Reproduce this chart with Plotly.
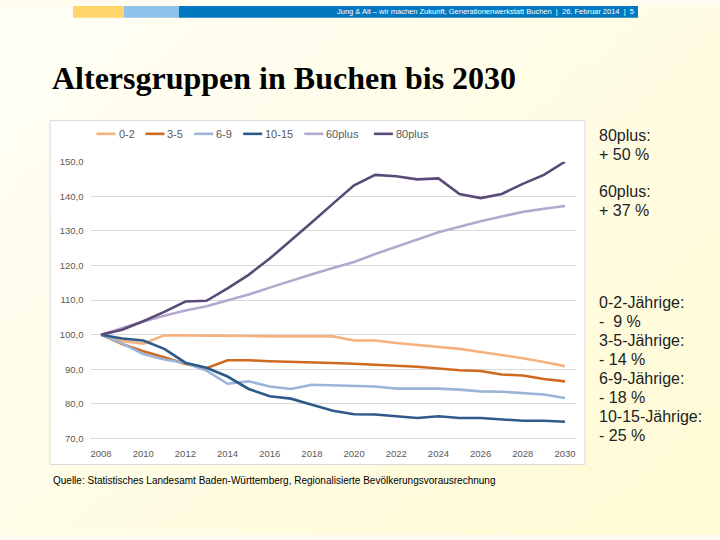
import base64, struct, zlib
import plotly.graph_objects as go

# ---------------- data ----------------
years = list(range(2008, 2031))
series_names = ["0-2", "3-5", "6-9", "10-15", "60plus", "80plus"]
v_0_2 = [100, 98.2, 97.4, 99.8, 99.8, 99.8, 99.8, 99.6, 99.5, 99.5, 99.5, 99.5,
         98.3, 98.3, 97.6, 97.0, 96.4, 95.9, 95.0, 94.2, 93.2, 92.1, 90.9]
v_3_5 = [100, 97.3, 95.2, 93.5, 91.5, 90.3, 92.6, 92.6, 92.3, 92.2, 92.0, 91.8,
         91.6, 91.4, 91.0, 90.7, 90.2, 89.7, 89.5, 88.5, 88.2, 87.2, 86.5]
v_6_9 = [100, 97.5, 94.4, 92.8, 91.8, 89.6, 85.8, 86.5, 85.0, 84.3, 85.5, 85.3,
         85.0, 85.0, 84.4, 84.4, 84.4, 84.1, 83.6, 83.5, 83.0, 82.7, 81.7]
v_10_15 = [100, 98.9, 98.3, 95.9, 91.9, 90.4, 87.9, 84.3, 82.2, 81.5, 79.7, 78.0,
           77.0, 76.9, 76.4, 75.9, 76.4, 75.9, 75.9, 75.6, 75.1, 75.1, 74.8]
v_60plus = [100, 102.0, 103.8, 105.5, 107.0, 108.2, 109.8, 111.6, 113.6, 115.6, 117.5, 119.3,
            121.0, 123.3, 125.5, 127.5, 129.6, 131.3, 132.8, 134.2, 135.5, 136.4, 137.2]
v_80plus = [100, 101.4, 103.9, 106.6, 109.6, 109.8, 113.4, 117.3, 122.0, 127.2, 132.5, 137.9,
            143.2, 146.2, 145.8, 144.9, 145.2, 140.7, 139.5, 140.7, 143.6, 146.2, 150.0]
series_values = [v_0_2, v_3_5, v_6_9, v_10_15, v_60plus, v_80plus]
y_ticks = [70, 80, 90, 100, 110, 120, 130, 140, 150]
x_ticks = list(range(2008, 2031, 2))

title_text = "Altersgruppen in Buchen bis 2030"
header_text = "Jung & Alt \u2013 wir machen Zukunft, Generationenwerkstatt Buchen  |  26. Februar 2014  |  5"
source_text = "Quelle: Statistisches Landesamt Baden-W\u00fcrttemberg, Regionalisierte Bev\u00f6lkerungsvorausrechnung"
side_notes = [["80plus:", "+ 50 %"], ["60plus:", "+ 37 %"],
              ["0-2-J\u00e4hrige:", "-  9 %", "3-5-J\u00e4hrige:", "- 14 %",
               "6-9-J\u00e4hrige:", "- 18 %", "10-15-J\u00e4hrige:", "- 25 %"]]

# ---------------- styles ----------------
colors = ["#F5B27F", "#D06A1E", "#9BB4D8", "#2E5A8A", "#B5A8CF", "#5A4A78"]
W, H = 720, 540


def px(x):
    return x / W


def py(y):
    return 1 - y / H


# background gradient image (generated PNG)
def gradient_png(w=72, h=54):
    c0 = (255, 254, 246)
    c1 = (255, 251, 212)
    raw = b""
    for j in range(h):
        raw += b"\x00"
        for i in range(w):
            t = (i / (w - 1)) * 0.55 + (j / (h - 1)) * 0.45
            r = [int(round(a + (b - a) * t)) for a, b in zip(c0, c1)]
            raw += bytes(r)

    def chunk(tag, data):
        c = struct.pack(">I", len(data)) + tag + data
        return c + struct.pack(">I", zlib.crc32(tag + data) & 0xffffffff)

    png = b"\x89PNG\r\n\x1a\n"
    png += chunk(b"IHDR", struct.pack(">IIBBBBB", w, h, 8, 2, 0, 0, 0))
    png += chunk(b"IDAT", zlib.compress(raw, 9))
    png += chunk(b"IEND", b"")
    return "data:image/png;base64," + base64.b64encode(png).decode()


fig = go.Figure()
for name, vals, col in zip(series_names, series_values, colors):
    fig.add_trace(go.Scatter(x=years, y=vals, mode="lines", name=name,
                             line=dict(color=col, width=2.6), showlegend=False))

plot_x0, plot_x1 = 90.5, 575.5
plot_y_top, plot_y_bot = 159.0, 441.4

fig.update_layout(
    width=W, height=H,
    margin=dict(l=0, r=0, t=0, b=0),
    paper_bgcolor="#FFFDF0",
    plot_bgcolor="rgba(0,0,0,0)",
    separators=",.",
    images=[dict(source=gradient_png(), xref="paper", yref="paper", x=0, y=1,
                 sizex=1, sizey=1, sizing="stretch", layer="below")],
    xaxis=dict(domain=[px(plot_x0), px(plot_x1)], range=[2007.5, 2030.5],
               tickvals=x_ticks, ticktext=[str(t) for t in x_ticks],
               showgrid=False, zeroline=False, showline=False, ticks="",
               tickfont=dict(family="Liberation Sans, Arial", size=9.5, color="#595959"),
               ticklabelstandoff=8),
    yaxis=dict(domain=[py(plot_y_bot), py(plot_y_top)], range=[70, 150],
               tickvals=y_ticks, tickformat=".1f",
               showgrid=True, gridcolor="#D9D9D9", gridwidth=1, zeroline=False,
               showline=False, ticks="",
               tickfont=dict(family="Liberation Sans, Arial", size=9.5, color="#595959"),
               ticklabelstandoff=6),
    showlegend=False,
)

shapes = []
annotations = []
# header bar
shapes += [
    dict(type="rect", xref="paper", yref="paper", x0=px(73), x1=px(124), y0=py(12), y1=py(0),
         fillcolor="#FFD468", line=dict(width=0), layer="below"),
    dict(type="rect", xref="paper", yref="paper", x0=px(124), x1=px(179), y0=py(12), y1=py(0),
         fillcolor="#8DC2EA", line=dict(width=0), layer="below"),
    dict(type="rect", xref="paper", yref="paper", x0=px(179), x1=px(638), y0=py(12), y1=py(0),
         fillcolor="#0079C1", line=dict(width=0), layer="below"),
]
annotations.append(dict(text=header_text, xref="paper", yref="paper", x=px(636), y=py(6),
                        xanchor="right", yanchor="middle", showarrow=False,
                        font=dict(family="Liberation Sans Narrow, Arial Narrow, Liberation Sans", size=7.5,
                                  color="white")))
# chart box
shapes.append(dict(type="rect", xref="paper", yref="paper", x0=px(50), x1=px(585), y0=py(468), y1=py(117),
                   fillcolor="white", line=dict(color="#D9D9D9", width=1), layer="below"))
# axis line at bottom
shapes.append(dict(type="line", xref="paper", yref="paper", x0=px(plot_x0), x1=px(plot_x1),
                   y0=py(plot_y_bot), y1=py(plot_y_bot), line=dict(color="#D9D9D9", width=1)))

# manual legend
leg_x = 96.5
leg_y = 130.5
for name, col in zip(series_names, colors):
    shapes.append(dict(type="line", xref="paper", yref="paper", x0=px(leg_x), x1=px(leg_x + 19),
                       y0=py(leg_y), y1=py(leg_y), line=dict(color=col, width=2.6)))
    annotations.append(dict(text=name, xref="paper", yref="paper", x=px(leg_x + 20), y=py(leg_y),
                            xanchor="left", yanchor="middle", showarrow=False,
                            font=dict(family="Liberation Sans, Arial", size=11, color="#595959")))
    tw = sum(6.1 if ch.isalnum() else 3.7 for ch in name)
    leg_x += 19 + 1 + tw + 13

# title
annotations.append(dict(text="<b>" + title_text + "</b>", xref="paper", yref="paper", x=px(50), y=py(73),
                        xanchor="left", yanchor="middle", showarrow=False,
                        font=dict(family="Liberation Serif, Times New Roman", size=32, color="black")))
# source
annotations.append(dict(text=source_text, xref="paper", yref="paper", x=px(51), y=py(484),
                        xanchor="left", yanchor="middle", showarrow=False,
                        font=dict(family="Liberation Sans, Arial", size=10, color="black")))
# side notes
block_tops = [132, 189, 303]
line_h = 19.4
for top, lines in zip(block_tops, side_notes):
    for k, t in enumerate(lines):
        annotations.append(dict(text=t, xref="paper", yref="paper", x=px(597), y=py(top + k * line_h),
                                xanchor="left", yanchor="middle", showarrow=False,
                                font=dict(family="Liberation Sans, Arial", size=16, color="#222222")))

fig.update_layout(shapes=shapes, annotations=annotations)
fig.write_html("out.html",
               config={"displayModeBar": False},
               post_script="document.body.style.margin='0px';document.body.style.padding='0px';"
                           "document.body.style.overflow='hidden';")
